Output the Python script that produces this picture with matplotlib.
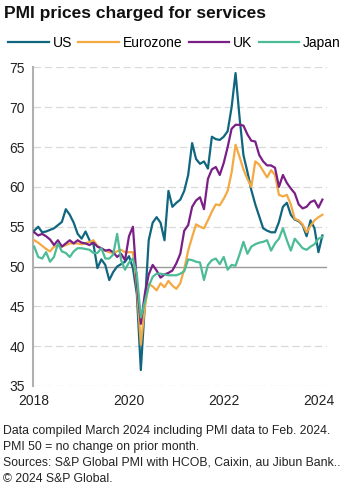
import numpy as np
import matplotlib as mpl
mpl.use('Agg')
import matplotlib.pyplot as plt

plt.rcParams['font.family'] = ['Liberation Sans', 'DejaVu Sans']

# monthly index, Jan 2018 .. Feb 2024
months = np.arange(74)

us = [54.5, 55.0, 54.3, 54.4, 54.6, 54.8, 55.2, 55.6, 57.2, 56.5, 55.5, 54.1,
      53.5, 54.4, 53.3, 52.8, 49.8, 50.9, 50.2, 48.3, 49.3, 50.0, 50.3, 50.6,
      51.3, 49.8, 46.5, 37.0, 45.0, 53.3, 55.5, 56.2, 55.5, 53.3, 59.5, 57.5,
      58.0, 58.4, 59.5, 61.5, 65.5, 63.5, 62.9, 63.2, 62.3, 66.3, 66.0, 65.9,
      66.3, 67.0, 70.0, 74.3, 68.8, 64.0, 61.9, 59.6, 57.8, 56.3, 54.8, 54.5,
      54.3, 54.3, 55.6, 57.5, 58.0, 56.5, 55.9, 55.7, 55.2, 53.8, 55.8, 54.8,
      51.8, 53.9]

eurozone = [53.3, 53.0, 52.6, 52.2, 51.9, 52.5, 52.6, 52.5, 52.7, 52.9, 52.9, 52.9,
            52.8, 52.9, 53.1, 53.3, 52.6, 52.2, 52.0, 51.8, 51.7, 51.9, 52.1, 51.8,
            51.8, 51.8, 47.5, 40.2, 44.8, 47.8, 47.5, 47.0, 47.9, 47.4, 48.2, 47.6,
            47.2, 47.9, 49.7, 52.0, 53.7, 55.3, 55.0, 54.8, 55.8, 56.9, 57.8, 57.7,
            58.5, 59.5, 61.8, 65.3, 63.8, 62.2, 61.0, 60.0, 63.2, 62.8, 62.0, 61.2,
            62.1, 61.5, 59.0, 58.8, 59.0, 57.8, 56.0, 55.8, 55.3, 54.3, 55.1, 55.8,
            56.2, 56.5]

uk = [54.3, 53.9, 54.1, 53.8, 53.4, 52.7, 53.3, 52.5, 52.9, 53.3, 52.9, 53.3,
      53.0, 52.9, 52.7, 53.0, 52.5, 52.3, 52.0, 52.1, 51.8, 51.2, 51.6, 50.8,
      53.8, 55.0, 48.0, 42.8, 46.5, 49.0, 50.2, 49.5, 48.6, 49.0, 49.2, 49.5,
      50.4, 51.6, 54.5, 55.2, 57.5, 58.3, 58.7, 57.2, 61.0, 62.2, 62.5, 61.5,
      63.0, 65.0, 67.3, 67.8, 67.8, 67.7, 66.6, 65.8, 65.7, 64.0, 63.2, 62.7,
      62.7, 62.4, 60.0, 61.5, 60.5, 59.8, 59.2, 57.8, 57.3, 57.5, 58.1, 58.3,
      57.4, 58.4]

japan = [52.5, 51.2, 51.0, 51.8, 50.6, 51.2, 52.9, 51.9, 51.7, 51.2, 51.9, 52.3,
         52.3, 52.2, 52.1, 51.7, 51.7, 52.3, 51.0, 51.0, 51.5, 54.1, 50.8, 49.6,
         50.5, 51.0, 49.0, 43.6, 45.5, 47.5, 48.7, 49.1, 49.1, 49.0, 48.9, 48.9,
         48.9, 49.1, 49.4, 50.9, 50.8, 50.6, 50.5, 48.3, 50.2, 50.8, 51.0, 50.3,
         51.2, 49.6, 50.2, 50.1, 51.5, 53.1, 51.6, 52.5, 52.8, 53.0, 53.1, 53.3,
         52.0, 52.9, 53.5, 54.8, 53.3, 52.0, 53.5, 52.9, 52.3, 52.1, 52.5, 52.8,
         53.5, 53.7]

year_ticks = [0, 24, 48, 72]
year_labels = ['2018', '2020', '2022', '2024']

series = [('US', us, '#10667f'),
          ('Eurozone', eurozone, '#f4a942'),
          ('UK', uk, '#7a1f86'),
          ('Japan', japan, '#4cbc98')]

fig = plt.figure(figsize=(3.48, 4.98), dpi=100)
ax = fig.add_axes([0.095, 0.225, 0.845, 0.6395])

for y in range(35, 80, 5):
    if y == 50:
        ax.axhline(y, color='#9a9a9a', lw=1.0, zorder=1)
    else:
        ax.axhline(y, color='#d9d9d9', lw=0.9, ls=(0, (6, 3)), zorder=1)

handles = []
for name, vals, col in series:
    h, = ax.plot(months, vals, color=col, lw=1.6, label=name, zorder=3)
    handles.append(h)

ax.set_ylim(35, 75)
ax.set_xlim(-0.3, 74.2)
ax.set_yticks(range(35, 80, 5))
ax.set_xticks(year_ticks)
ax.set_xticklabels(year_labels)
ax.tick_params(axis='both', length=0, labelsize=10, colors='#222222')
ax.tick_params(axis='y', pad=6)
ax.tick_params(axis='x', pad=6)
for s in ['top', 'right', 'bottom']:
    ax.spines[s].set_visible(False)
ax.spines['left'].set_color('#b0b0b0')
ax.spines['left'].set_linewidth(1.5)

fig.text(0.012, 0.972, 'PMI prices charged for services', fontsize=12.5,
         fontweight='bold', va='center', ha='left', color='#111111')

fig.legend(handles=handles, loc='center left', bbox_to_anchor=(0.0, 0.913),
           ncol=4, frameon=False, fontsize=10, handlelength=2.9,
           handletextpad=0.3, columnspacing=0.45, borderaxespad=0.2)

notes = ['Data compiled March 2024 including PMI data to Feb. 2024.',
         'PMI 50 = no change on prior month.',
         'Sources: S&P Global PMI with HCOB, Caixin, au Jibun Bank..',
         '\u00a9 2024 S&P Global.']
for k, line in enumerate(notes):
    fig.text(0.01, 0.134 - k * 0.0318, line, fontsize=8.8, color='#222222',
             va='center', ha='left')

plt.savefig('out.png', dpi=100)
